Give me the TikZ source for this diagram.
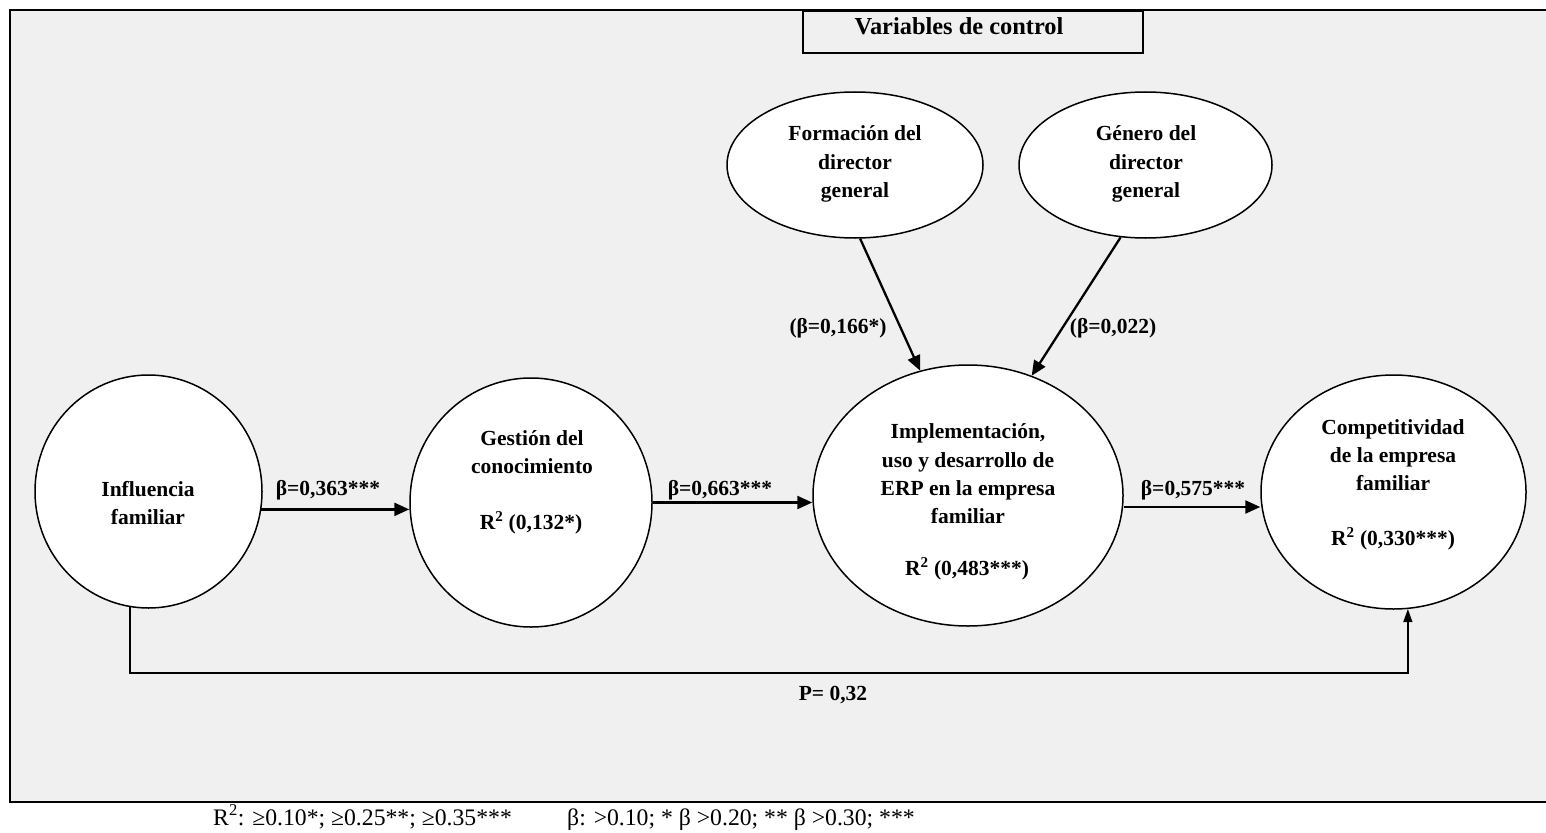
\documentclass[tikz,border=0pt]{standalone}
\usepackage{fontspec}
\setmainfont{Liberation Serif}
\usetikzlibrary{arrows.meta,shapes.geometric}
\definecolor{panel}{HTML}{F0F0F0}

\begin{document}
\begin{tikzpicture}[x=1pt,y=-1pt,
  construct/.style={ellipse,draw,fill=white,line width=1.5pt,inner sep=0pt},
  lbl/.style={font=\bfseries\fontsize{21.5}{28.3}\selectfont,align=center,inner sep=0pt},
  path arrow/.style={line width=2.3pt,-{Triangle[length=15pt,width=13pt]}},
  direct arrow/.style={line width=1.4pt,-{Triangle[length=13pt,width=9pt]}},
  legend/.style={font=\fontsize{23.7}{26}\selectfont,inner sep=0pt,anchor=base west}]
\useasboundingbox (0,0) rectangle (1546,832);
\clip (0,0) rectangle (1546,832);

% panel
\fill[panel] (10,10) rectangle (1560,802);
\draw[line width=2.6pt] (1560,10) -- (10,10) -- (10,802) -- (1560,802);

% control variables header
\node[draw,fill=panel,line width=2pt,minimum width=340pt,minimum height=42pt,inner sep=0pt] (vc) at (973,32) {};
\node[lbl,font=\bfseries\fontsize{24.4}{28}\selectfont] (vctxt) at (959,26) {Variables de control};

% constructs
\node[construct,minimum width=227pt,minimum height=233pt] (inf) at (148.5,491.5) {};
\node[construct,minimum width=242pt,minimum height=249pt] (ges) at (531,502.5) {};
\node[construct,minimum width=310pt,minimum height=261pt] (imp) at (968,495.5) {};
\node[construct,minimum width=265pt,minimum height=234pt] (comp) at (1393.5,492) {};
\node[construct,minimum width=256pt,minimum height=146pt] (for) at (855,165) {};
\node[construct,minimum width=253pt,minimum height=146pt] (gen) at (1145.5,165) {};

% construct texts
\node[lbl] (inftxt) at (148,503) {Influencia\\familiar};
\node[lbl] (gestxt) at (532,452) {Gestión del\\conocimiento};
\node[lbl] (gesr) at (531,523) {R\textsuperscript{2} (0,132*)};
\node[lbl] (imptxt) at (968,474) {Implementación,\\uso y desarrollo de\\ERP en la empresa\\familiar};
\node[lbl] (impr) at (967,569) {R\textsuperscript{2} (0,483***)};
\node[lbl] (comptxt) at (1393,455) {Competitividad\\de la empresa\\familiar};
\node[lbl] (compr) at (1393,539) {R\textsuperscript{2} (0,330***)};
\node[lbl] (fortxt) at (855,164) {Formación del\\director\\general};
\node[lbl] (gentxt) at (1146,164) {Género del\\director\\general};

% helper levels
\coordinate (yA) at (0,507);
\coordinate (low) at (0,673);

% structural paths
\draw[path arrow] (inf.-9.6) -- (inf.-9.6 -| ges.west);
\draw[path arrow] (ges.east) -- (ges.east -| imp.west);
\draw[path arrow] (imp.east |- yA) -- (comp.west |- yA);
\draw[path arrow] (for.274) -- (imp.111);
\draw[path arrow] (gen.251.9) -- (imp.62.6);
\draw[direct arrow] (inf.261.4) -- (inf.261.4 |- low) -- (comp.277.1 |- low) -- (comp.277.1);

% path coefficients
\node[lbl] (b1) at (328,490) {β=0,363***};
\node[lbl] (b2) at (720,490) {β=0,663***};
\node[lbl] (b3) at (1193,490) {β=0,575***};
\node[lbl] (b4) at (838,328) {(β=0,166*)};
\node[lbl] (b5) at (1113,328) {(β=0,022)};
\node[lbl] (p) at (833,695) {P= 0,32};

% significance legend
\node[legend] (leg1) at (213,825) {R\textsuperscript{2}: ≥0.10*; ≥0.25**; ≥0.35***};
\node[legend] (leg2) at (567,825) {β: >0.10; * β >0.20; ** β >0.30; ***};
\end{tikzpicture}
\end{document}
